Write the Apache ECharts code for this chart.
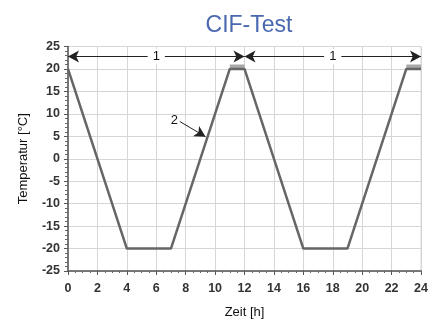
<!DOCTYPE html>
<html><head><meta charset="utf-8">
<script src="https://cdn.jsdelivr.net/npm/echarts@6/dist/echarts.min.js"></script>
<style>html,body{margin:0;padding:0;background:#fff}#c{width:437px;height:324px}</style>
</head><body><div id="c"></div>
<script>
var timeH = [0, 4, 7, 11, 12, 16, 19, 23, 24];
var tempC = [20, -20, -20, 20, 20, -20, -20, 20, 20];
var plateauTimes = [[11, 12], [23, 24]];
var plateauLevel = 20.45;
var cycleArrows = [[0, 12], [12, 24]];
var cycleArrowY = 22.8;
var cycleLabel = '1';
var pointerFrom = [7.6, 8.3];
var pointerTo = [9.35, 4.9];
var pointerLabel = '2';
var xTicks = [0, 24, 2];
var yTicks = [-25, 25, 5];

var font = 'Liberation Sans, Arial, sans-serif';
var plateauData = [];
plateauTimes.forEach(function (p, i) {
  if (i) plateauData.push([null, null]);
  plateauData.push([p[0], plateauLevel], [p[1], plateauLevel]);
});
var mainData = timeH.map(function (t, i) { return [t, tempC[i]]; });
var arrowLines = cycleArrows.map(function (a) {
  return [{ coord: [a[0], cycleArrowY] }, { coord: [a[1], cycleArrowY] }];
});

var chart = echarts.init(document.getElementById('c'), null, { renderer: 'canvas' });
chart.setOption({
  animation: false,
  title: {
    text: 'CIF-Test', left: 244, top: 9, textAlign: 'center',
    textStyle: { color: '#4a68b0', fontSize: 23, fontWeight: 'normal', fontFamily: font }
  },
  grid: { left: 68, right: 16, top: 46.5, bottom: 52.5, show: true, borderColor: '#d6d6d6', borderWidth: 1 },
  xAxis: {
    type: 'value', min: xTicks[0], max: xTicks[1], interval: xTicks[2],
    name: 'Zeit [h]', nameLocation: 'middle', nameGap: 35,
    nameTextStyle: { color: '#111', fontSize: 13, fontFamily: font },
    axisLine: { onZero: false, lineStyle: { color: '#555', width: 1.5 } },
    axisTick: { show: true, length: 4, lineStyle: { color: '#555' } },
    minorTick: { show: true, splitNumber: 4, length: 2, lineStyle: { color: '#666' } },
    axisLabel: { color: '#333', fontSize: 12.5, fontWeight: 'bold', fontFamily: font, margin: 11 },
    splitLine: { show: true, lineStyle: { color: '#d6d6d6', width: 1 } }
  },
  yAxis: {
    type: 'value', min: yTicks[0], max: yTicks[1], interval: yTicks[2],
    name: 'Temperatur [°C]', nameLocation: 'middle', nameGap: 38,
    nameTextStyle: { color: '#111', fontSize: 13, fontFamily: font },
    axisLine: { onZero: false, lineStyle: { color: '#555', width: 1.5 } },
    axisTick: { show: true, length: 4, lineStyle: { color: '#555' } },
    minorTick: { show: true, splitNumber: 5, length: 3, lineStyle: { color: '#666' } },
    axisLabel: { color: '#333', fontSize: 12.5, fontWeight: 'bold', fontFamily: font, margin: 8 },
    splitLine: { show: true, lineStyle: { color: '#d6d6d6', width: 1 } }
  },
  series: [
    {
      type: 'line', data: plateauData, showSymbol: false, connectNulls: false,
      lineStyle: { color: '#a8a8a8', width: 5 }, z: 2
    },
    {
      type: 'line', data: mainData, showSymbol: false,
      lineStyle: { color: '#666', width: 2.5 }, z: 3,
      markLine: {
        silent: true, symbol: ['arrow', 'arrow'], symbolSize: [9, 11],
        lineStyle: { color: '#222', width: 1, type: 'solid' },
        label: {
          show: true, position: 'middle', formatter: cycleLabel, color: '#111',
          fontSize: 13, fontFamily: font, backgroundColor: '#fff', padding: [1, 5],
          verticalAlign: 'middle', distance: 0
        },
        data: arrowLines.concat([[
          { coord: pointerFrom, symbol: 'none',
            label: { position: 'start', formatter: pointerLabel, backgroundColor: 'transparent', distance: 2, padding: 0 } },
          { coord: pointerTo, symbol: 'arrow' }
        ]])
      }
    }
  ]
});
</script></body></html>
